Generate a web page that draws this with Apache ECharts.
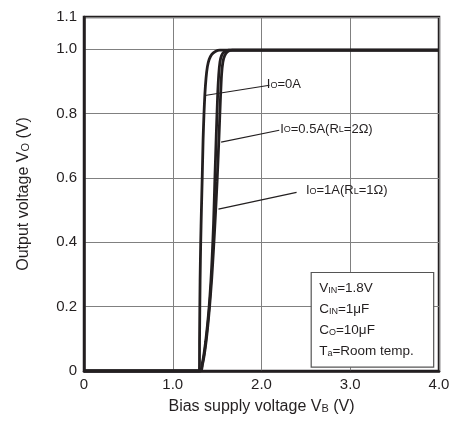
<!DOCTYPE html>
<html><head><meta charset="utf-8">
<script src="https://cdn.jsdelivr.net/npm/echarts@6/dist/echarts.min.js"></script>
<style>html,body{margin:0;padding:0;background:#fff}#c{width:454px;height:428px}</style>
</head><body><div id="c"></div>
<script>
const FONT = '"Liberation Sans", Arial, Helvetica, sans-serif';
const TXT = '#231f20';

// Curves: [bias voltage VB (V), output voltage VO (V)]
const curveIo0A = [[0,0],[1.30,0],[1.302,0.1],[1.308,0.28],[1.315,0.4],[1.323,0.5],[1.332,0.6],[1.342,0.72],[1.352,0.8],[1.362,0.86],[1.375,0.91],[1.39,0.945],[1.41,0.968],[1.44,0.984],[1.48,0.993],[1.53,0.997],[4,0.997]];
const curveIo05A = [[0,0],[1.31,0],[1.33,0.02],[1.35,0.05],[1.37,0.09],[1.39,0.14],[1.41,0.2],[1.43,0.28],[1.445,0.36],[1.46,0.46],[1.475,0.6],[1.49,0.73],[1.505,0.85],[1.518,0.92],[1.532,0.96],[1.55,0.98],[1.58,0.992],[1.63,0.997],[4,0.997]];
const curveIo1A = [[0,0],[1.315,0],[1.335,0.02],[1.355,0.05],[1.375,0.09],[1.395,0.14],[1.415,0.2],[1.44,0.29],[1.46,0.38],[1.48,0.48],[1.5,0.59],[1.52,0.72],[1.538,0.85],[1.55,0.92],[1.565,0.96],[1.585,0.98],[1.615,0.992],[1.67,0.997],[4,0.997]];

// Annotations (data coordinates): leader start, leader end, label anchor, label text
const annotations = [
  {from:[1.362,0.856], to:[2.09,0.888], at:[2.06,0.89], text:'I{s|O}=0A'},
  {from:[1.545,0.711], to:[2.20,0.748], at:[2.21,0.752], text:'I{s|O}=0.5A(R{s|L}=2Ω)'},
  {from:[1.515,0.503], to:[2.395,0.555], at:[2.50,0.56], text:'I{s|O}=1A(R{s|L}=1Ω)'}
];
const conditionLines = ['V{s|IN}=1.8V','C{s|IN}=1μF','C{s|O}=10μF','T{s|a}=Room temp.'];
const conditionBox = {x0:2.56, y0:0.306, x1:3.94, y1:0.012};

const chart = echarts.init(document.getElementById('c'));
const fmt = v => v === 0 ? '0' : v.toFixed(1);
const lineSeries = (name, data) => ({
  name, type:'line', data, showSymbol:false, smooth:0.2,
  lineStyle:{color:'#231f20', width:2.8}, z:3, animation:false
});
chart.setOption({
  animation:false,
  grid:{left:84, right:15, top:17, bottom:57, show:true, borderColor:'#231f20', borderWidth:2.5, backgroundColor:'transparent'},
  xAxis:{type:'value', min:0, max:4, interval:1,
    name:'Bias supply voltage V{s|B} (V)', nameLocation:'middle', nameGap:28,
    nameTextStyle:{fontFamily:FONT, fontSize:16, color:TXT, rich:{s:{fontSize:11, fontFamily:FONT, color:TXT, verticalAlign:'bottom', padding:[0,0,1,0]}}},
    axisLine:{show:true, lineStyle:{color:'#231f20', width:2.5}}, axisTick:{show:false},
    axisLabel:{formatter:fmt, fontFamily:FONT, fontSize:15, color:TXT, margin:6},
    splitLine:{show:true, lineStyle:{color:'#808080', width:1}}},
  yAxis:{type:'value', min:0, max:1.1, interval:0.2,
    name:'Output voltage V{s|O} (V)', nameLocation:'middle', nameGap:52,
    nameTextStyle:{fontFamily:FONT, fontSize:16, color:TXT, rich:{s:{fontSize:11, fontFamily:FONT, color:TXT, verticalAlign:'bottom', padding:[0,0,1,0]}}},
    axisLine:{show:true, lineStyle:{color:'#231f20', width:2.5}}, axisTick:{show:false},
    axisLabel:{formatter:fmt, fontFamily:FONT, fontSize:15, color:TXT, margin:7},
    splitLine:{show:true, lineStyle:{color:'#808080', width:1}}},
  series:[lineSeries('Io=0A', curveIo0A), lineSeries('Io=0.5A', curveIo05A), lineSeries('Io=1A', curveIo1A)]
});

function px(p){ return chart.convertToPixel({gridIndex:0}, p); }
const subRich = {s:{fontSize:9, fontFamily:FONT, fill:TXT, verticalAlign:'bottom', padding:[0,0,1,0]}};
const graphics = [];
annotations.forEach(a => {
  const f = px(a.from), t = px(a.to), l = px(a.at);
  graphics.push({type:'line', shape:{x1:f[0], y1:f[1], x2:t[0], y2:t[1]}, style:{stroke:'#231f20', lineWidth:1.2}, z:10});
  graphics.push({type:'text', x:l[0], y:l[1], style:{text:a.text, fontFamily:FONT, fontSize:13, fill:TXT, verticalAlign:'middle', rich:subRich}, z:10});
});
const b0 = px([conditionBox.x0, conditionBox.y0]), b1 = px([conditionBox.x1, conditionBox.y1]);
graphics.push({type:'rect', shape:{x:b0[0], y:b0[1], width:b1[0]-b0[0], height:b1[1]-b0[1]}, style:{fill:'#fff', stroke:'#555', lineWidth:1.2}, z:9});
conditionLines.forEach((t,i) => {
  graphics.push({type:'text', x:b0[0]+8, y:b0[1]+16+i*21, style:{text:t, fontFamily:FONT, fontSize:13.5, fill:TXT, verticalAlign:'middle', rich:subRich}, z:10});
});
chart.setOption({graphic:graphics});
</script></body></html>
